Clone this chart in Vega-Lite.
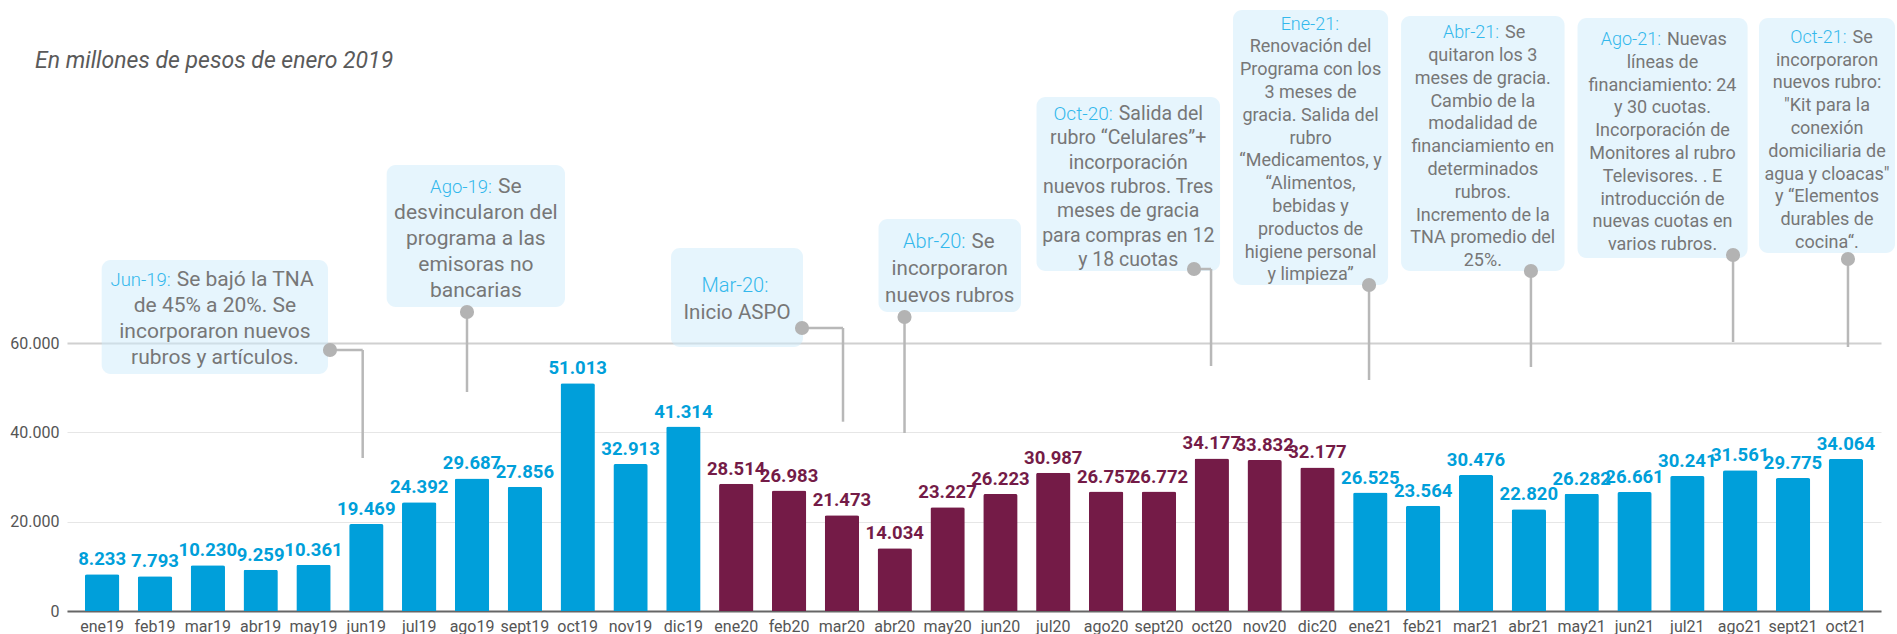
{
  "$schema": "https://vega.github.io/schema/vega-lite/v6.json",
  "width": 1814,
  "height": 607,
  "autosize": "none",
  "padding": {"left": 67, "top": 4, "right": 16, "bottom": 23},
  "background": "#ffffff",
  "config": {
    "locale": {"number": {"decimal": ",", "thousands": ".", "grouping": [3], "currency": ["$", ""]}},
    "view": {"stroke": null},
    "font": "Roboto"
  },
  "title": {
    "text": "En millones de pesos de enero 2019",
    "anchor": "start",
    "frame": "group",
    "font": "Roboto",
    "fontSize": 23,
    "fontStyle": "italic",
    "fontWeight": "normal",
    "color": "#5a5a5a",
    "baseline": "alphabetic",
    "offset": -87,
    "dx": -32
  },
  "datasets": {
    "barras": [
      {"mes": "ene19", "valor": 8233, "anio": "2019"},
      {"mes": "feb19", "valor": 7793, "anio": "2019"},
      {"mes": "mar19", "valor": 10230, "anio": "2019"},
      {"mes": "abr19", "valor": 9259, "anio": "2019"},
      {"mes": "may19", "valor": 10361, "anio": "2019"},
      {"mes": "jun19", "valor": 19469, "anio": "2019"},
      {"mes": "jul19", "valor": 24392, "anio": "2019"},
      {"mes": "ago19", "valor": 29687, "anio": "2019"},
      {"mes": "sept19", "valor": 27856, "anio": "2019"},
      {"mes": "oct19", "valor": 51013, "anio": "2019"},
      {"mes": "nov19", "valor": 32913, "anio": "2019"},
      {"mes": "dic19", "valor": 41314, "anio": "2019"},
      {"mes": "ene20", "valor": 28514, "anio": "2020"},
      {"mes": "feb20", "valor": 26983, "anio": "2020"},
      {"mes": "mar20", "valor": 21473, "anio": "2020"},
      {"mes": "abr20", "valor": 14034, "anio": "2020"},
      {"mes": "may20", "valor": 23227, "anio": "2020"},
      {"mes": "jun20", "valor": 26223, "anio": "2020"},
      {"mes": "jul20", "valor": 30987, "anio": "2020"},
      {"mes": "ago20", "valor": 26757, "anio": "2020"},
      {"mes": "sept20", "valor": 26772, "anio": "2020"},
      {"mes": "oct20", "valor": 34177, "anio": "2020"},
      {"mes": "nov20", "valor": 33832, "anio": "2020"},
      {"mes": "dic20", "valor": 32177, "anio": "2020"},
      {"mes": "ene21", "valor": 26525, "anio": "2021"},
      {"mes": "feb21", "valor": 23564, "anio": "2021"},
      {"mes": "mar21", "valor": 30476, "anio": "2021"},
      {"mes": "abr21", "valor": 22820, "anio": "2021"},
      {"mes": "may21", "valor": 26282, "anio": "2021"},
      {"mes": "jun21", "valor": 26661, "anio": "2021"},
      {"mes": "jul21", "valor": 30241, "anio": "2021"},
      {"mes": "ago21", "valor": 31561, "anio": "2021"},
      {"mes": "sept21", "valor": 29775, "anio": "2021"},
      {"mes": "oct21", "valor": 34064, "anio": "2021"}
    ],
    "notas": [
      {"fecha": "Jun-19:", "primera": "Se bajó la TNA", "lineas": ["", "de 45% a 20%. Se", "incorporaron nuevos", "rubros y artículos."], "grupo": "A", "x1": -0.008, "x2": 4.274, "yTop": 78642, "yBot": 53100, "cx": 2.134, "xs": 1.411, "yt": 72816, "px": 4.312, "py": 58477, "cxh": 4.931, "yfin": 34280},
      {"fecha": "Ago-19:", "primera": "Se", "lineas": ["", "desvincularon del", "programa a las", "emisoras no", "bancarias"], "grupo": "A", "x1": 5.385, "x2": 8.76, "yTop": 99926, "yBot": 68111, "cx": 7.073, "xs": 7.492, "yt": 93720, "px": 6.905, "py": 66991, "cxh": 6.905, "yfin": 49067},
      {"fecha": "Mar-20:", "primera": "", "lineas": ["", "Inicio ASPO"], "grupo": "B", "x1": 10.766, "x2": 13.264, "yTop": 81330, "yBot": 59149, "cx": 12.015, "xs": 12.722, "yt": 71539, "px": 13.245, "py": 63406, "cxh": 14.021, "yfin": 42413},
      {"fecha": "Abr-20:", "primera": "Se", "lineas": ["", "incorporaron", "nuevos rubros"], "grupo": "B", "x1": 14.693, "x2": 17.389, "yTop": 87828, "yBot": 66991, "cx": 16.041, "xs": 16.453, "yt": 81263, "px": 15.185, "py": 65871, "cxh": 15.185, "yfin": 39881},
      {"fecha": "Oct-20:", "primera": "Salida del", "lineas": ["", "rubro “Celulares”+", "incorporación", "nuevos rubros. Tres", "meses de gracia", "para compras en 12", "y 18 cuotas"], "grupo": "C", "x1": 17.683, "x2": 21.156, "yTop": 115162, "yBot": 76177, "cx": 19.419, "xs": 19.24, "yt": 110009, "px": 20.664, "py": 76625, "cxh": 20.986, "yfin": 54892},
      {"fecha": "Ene-21:", "primera": "", "lineas": ["", "Renovación del", "Programa con los", "3 meses de", "gracia. Salida del", "rubro", "“Medicamentos, y", "“Alimentos,", "bebidas y", "productos de", "higiene personal", "y limpieza”"], "grupo": "D", "x1": 21.402, "x2": 24.336, "yTop": 134654, "yBot": 73040, "cx": 22.869, "xs": 23.521, "yt": 130285, "px": 23.976, "py": 73040, "cxh": 23.976, "yfin": 51756},
      {"fecha": "Abr-21:", "primera": "Se", "lineas": ["", "quitaron los 3", "meses de gracia.", "Cambio de la", "modalidad de", "financiamiento en", "determinados", "rubros.", "Incremento de la", "TNA promedio del", "25%."], "grupo": "D", "x1": 24.582, "x2": 27.676, "yTop": 133310, "yBot": 76177, "cx": 26.129, "xs": 26.551, "yt": 128313, "px": 27.04, "py": 76177, "cxh": 27.04, "yfin": 54668},
      {"fecha": "Ago-21:", "primera": "Nuevas", "lineas": ["", "líneas de", "financiamiento: 24", "y 30 cuotas.", "Incorporación de", "Monitores al rubro", "Televisores. . E", "introducción de", "nuevas cuotas en", "varios rubros."], "grupo": "D", "x1": 27.922, "x2": 31.14, "yTop": 132862, "yBot": 79090, "cx": 29.53, "xs": 29.615, "yt": 126812, "px": 30.865, "py": 79762, "cxh": 30.865, "yfin": 60269},
      {"fecha": "Oct-21:", "primera": "Se", "lineas": ["", "incorporaron", "nuevos rubro:", "\"Kit para la", "conexión", "domiciliaria de", "agua y cloacas\"", "y “Elementos", "durables de", "cocina“."], "grupo": "D", "x1": 31.356, "x2": 33.93, "yTop": 132862, "yBot": 80210, "cx": 32.643, "xs": 33.126, "yt": 127328, "px": 33.04, "py": 78866, "cxh": 33.04, "yfin": 59149}
    ]
  },
  "layer": [
    {
      "data": {"name": "barras"},
      "encoding": {
        "x": {
          "field": "mes", "type": "nominal", "sort": null,
          "scale": {"paddingInner": 0.35, "paddingOuter": 0.34},
          "axis": {"title": null, "labelAngle": 0, "labelFont": "Roboto", "labelFontSize": 16, "labelColor": "#555555", "domainColor": "#666666", "domainWidth": 2, "ticks": false, "labelPadding": 7, "grid": false}
        },
        "y": {
          "field": "valor", "type": "quantitative",
          "scale": {"domain": [0, 136000], "nice": false, "zero": true},
          "axis": {
            "title": null, "values": [0, 20000, 40000, 60000], "format": ",d",
            "labelFont": "Roboto", "labelFontSize": 16, "labelColor": "#555555",
            "domain": false, "ticks": false, "labelPadding": 8,
            "grid": true,
            "gridColor": {"condition": {"test": "datum.value === 60000", "value": "#d0d0d0"}, "value": "#e6e6e6"},
            "gridWidth": {"condition": {"test": "datum.value === 60000", "value": 2}, "value": 1}
          }
        },
        "color": {
          "field": "anio", "type": "nominal",
          "scale": {"domain": ["2019", "2020", "2021"], "range": ["#009fda", "#741b47", "#009fda"]},
          "legend": null
        }
      },
      "layer": [
        {"mark": {"type": "bar", "cornerRadiusTopLeft": 2, "cornerRadiusTopRight": 2}},
        {
          "mark": {"type": "text", "font": "Roboto", "fontSize": 18.5, "fontWeight": "bold", "baseline": "alphabetic", "dy": -9, "stroke": "#ffffff", "strokeWidth": 4, "strokeJoin": "round"},
          "encoding": {"text": {"field": "valor", "type": "quantitative", "format": ",d"}}
        },
        {
          "mark": {"type": "text", "font": "Roboto", "fontSize": 18.5, "fontWeight": "bold", "baseline": "alphabetic", "dy": -9},
          "encoding": {"text": {"field": "valor", "type": "quantitative", "format": ",d"}}
        }
      ]
    },
    {
      "data": {"name": "notas"},
      "layer": [
        {
          "mark": {"type": "rect", "cornerRadius": 9, "color": "#cdebfb", "fillOpacity": 0.5},
          "encoding": {
            "x": {"field": "x1", "type": "quantitative", "scale": {"domain": [-0.665, 33.665], "nice": false, "zero": false}, "axis": null},
            "x2": {"field": "x2"},
            "y": {"field": "yTop", "type": "quantitative", "scale": {"domain": [0, 136000], "nice": false}, "title": null},
            "y2": {"field": "yBot"}
          }
        },
        {
          "mark": {"type": "rule", "color": "#b8b8b8", "strokeWidth": 2.5},
          "encoding": {
            "x": {"field": "px", "type": "quantitative", "scale": {"domain": [-0.665, 33.665], "nice": false, "zero": false}, "axis": null},
            "x2": {"field": "cxh"},
            "y": {"field": "py", "type": "quantitative", "scale": {"domain": [0, 136000], "nice": false}, "title": null}
          }
        },
        {
          "mark": {"type": "rule", "color": "#b8b8b8", "strokeWidth": 2.5},
          "encoding": {
            "x": {"field": "cxh", "type": "quantitative", "scale": {"domain": [-0.665, 33.665], "nice": false, "zero": false}, "axis": null},
            "y": {"field": "py", "type": "quantitative", "scale": {"domain": [0, 136000], "nice": false}, "title": null},
            "y2": {"field": "yfin"}
          }
        },
        {
          "mark": {"type": "point", "filled": true, "size": 200, "color": "#b3b3b3", "opacity": 1},
          "encoding": {
            "x": {"field": "px", "type": "quantitative", "scale": {"domain": [-0.665, 33.665], "nice": false, "zero": false}, "axis": null},
            "y": {"field": "py", "type": "quantitative", "scale": {"domain": [0, 136000], "nice": false}, "title": null}
          }
        },
        {
          "transform": [{"filter": "datum.grupo === 'A'"}],
          "layer": [
            {
              "mark": {"type": "text", "font": "Roboto", "fontSize": 21, "lineHeight": 26, "align": "center", "baseline": "alphabetic", "color": "#777777"},
              "encoding": {
                "x": {"field": "cx", "type": "quantitative", "scale": {"domain": [-0.665, 33.665], "nice": false, "zero": false}, "axis": null},
                "y": {"field": "yt", "type": "quantitative", "scale": {"domain": [0, 136000], "nice": false}, "title": null},
                "text": {"field": "lineas"}
              }
            },
            {
              "mark": {"type": "text", "font": "Roboto", "fontSize": 21, "align": "left", "baseline": "alphabetic", "color": "#777777"},
              "encoding": {
                "x": {"field": "xs", "type": "quantitative", "scale": {"domain": [-0.665, 33.665], "nice": false, "zero": false}, "axis": null},
                "y": {"field": "yt", "type": "quantitative", "scale": {"domain": [0, 136000], "nice": false}, "title": null},
                "text": {"field": "primera"}
              }
            },
            {
              "mark": {"type": "text", "font": "Roboto", "fontWeight": 300, "fontSize": 18.5, "align": "right", "baseline": "alphabetic", "dx": -6, "color": "#33b8ec"},
              "encoding": {
                "x": {"field": "xs", "type": "quantitative", "scale": {"domain": [-0.665, 33.665], "nice": false, "zero": false}, "axis": null},
                "y": {"field": "yt", "type": "quantitative", "scale": {"domain": [0, 136000], "nice": false}, "title": null},
                "text": {"field": "fecha"}
              }
            }
          ]
        },
        {
          "transform": [{"filter": "datum.grupo === 'B'"}],
          "layer": [
            {
              "mark": {"type": "text", "font": "Roboto", "fontSize": 20.5, "lineHeight": 27, "align": "center", "baseline": "alphabetic", "color": "#777777"},
              "encoding": {
                "x": {"field": "cx", "type": "quantitative", "scale": {"domain": [-0.665, 33.665], "nice": false, "zero": false}, "axis": null},
                "y": {"field": "yt", "type": "quantitative", "scale": {"domain": [0, 136000], "nice": false}, "title": null},
                "text": {"field": "lineas"}
              }
            },
            {
              "mark": {"type": "text", "font": "Roboto", "fontSize": 20.5, "align": "left", "baseline": "alphabetic", "color": "#777777"},
              "encoding": {
                "x": {"field": "xs", "type": "quantitative", "scale": {"domain": [-0.665, 33.665], "nice": false, "zero": false}, "axis": null},
                "y": {"field": "yt", "type": "quantitative", "scale": {"domain": [0, 136000], "nice": false}, "title": null},
                "text": {"field": "primera"}
              }
            },
            {
              "mark": {"type": "text", "font": "Roboto", "fontWeight": 300, "fontSize": 20, "align": "right", "baseline": "alphabetic", "dx": -6, "color": "#33b8ec"},
              "encoding": {
                "x": {"field": "xs", "type": "quantitative", "scale": {"domain": [-0.665, 33.665], "nice": false, "zero": false}, "axis": null},
                "y": {"field": "yt", "type": "quantitative", "scale": {"domain": [0, 136000], "nice": false}, "title": null},
                "text": {"field": "fecha"}
              }
            }
          ]
        },
        {
          "transform": [{"filter": "datum.grupo === 'C'"}],
          "layer": [
            {
              "mark": {"type": "text", "font": "Roboto", "fontSize": 19.5, "lineHeight": 24.3, "align": "center", "baseline": "alphabetic", "color": "#777777"},
              "encoding": {
                "x": {"field": "cx", "type": "quantitative", "scale": {"domain": [-0.665, 33.665], "nice": false, "zero": false}, "axis": null},
                "y": {"field": "yt", "type": "quantitative", "scale": {"domain": [0, 136000], "nice": false}, "title": null},
                "text": {"field": "lineas"}
              }
            },
            {
              "mark": {"type": "text", "font": "Roboto", "fontSize": 19.5, "align": "left", "baseline": "alphabetic", "color": "#777777"},
              "encoding": {
                "x": {"field": "xs", "type": "quantitative", "scale": {"domain": [-0.665, 33.665], "nice": false, "zero": false}, "axis": null},
                "y": {"field": "yt", "type": "quantitative", "scale": {"domain": [0, 136000], "nice": false}, "title": null},
                "text": {"field": "primera"}
              }
            },
            {
              "mark": {"type": "text", "font": "Roboto", "fontWeight": 300, "fontSize": 19, "align": "right", "baseline": "alphabetic", "dx": -6, "color": "#33b8ec"},
              "encoding": {
                "x": {"field": "xs", "type": "quantitative", "scale": {"domain": [-0.665, 33.665], "nice": false, "zero": false}, "axis": null},
                "y": {"field": "yt", "type": "quantitative", "scale": {"domain": [0, 136000], "nice": false}, "title": null},
                "text": {"field": "fecha"}
              }
            }
          ]
        },
        {
          "transform": [{"filter": "datum.grupo === 'D'"}],
          "layer": [
            {
              "mark": {"type": "text", "font": "Roboto", "fontSize": 18, "lineHeight": 22.8, "align": "center", "baseline": "alphabetic", "color": "#777777"},
              "encoding": {
                "x": {"field": "cx", "type": "quantitative", "scale": {"domain": [-0.665, 33.665], "nice": false, "zero": false}, "axis": null},
                "y": {"field": "yt", "type": "quantitative", "scale": {"domain": [0, 136000], "nice": false}, "title": null},
                "text": {"field": "lineas"}
              }
            },
            {
              "mark": {"type": "text", "font": "Roboto", "fontSize": 18, "align": "left", "baseline": "alphabetic", "color": "#777777"},
              "encoding": {
                "x": {"field": "xs", "type": "quantitative", "scale": {"domain": [-0.665, 33.665], "nice": false, "zero": false}, "axis": null},
                "y": {"field": "yt", "type": "quantitative", "scale": {"domain": [0, 136000], "nice": false}, "title": null},
                "text": {"field": "primera"}
              }
            },
            {
              "mark": {"type": "text", "font": "Roboto", "fontWeight": 300, "fontSize": 18, "align": "right", "baseline": "alphabetic", "dx": -6, "color": "#33b8ec"},
              "encoding": {
                "x": {"field": "xs", "type": "quantitative", "scale": {"domain": [-0.665, 33.665], "nice": false, "zero": false}, "axis": null},
                "y": {"field": "yt", "type": "quantitative", "scale": {"domain": [0, 136000], "nice": false}, "title": null},
                "text": {"field": "fecha"}
              }
            }
          ]
        }
      ]
    }
  ],
  "resolve": {"scale": {"x": "independent"}, "axis": {"x": "independent"}}
}
